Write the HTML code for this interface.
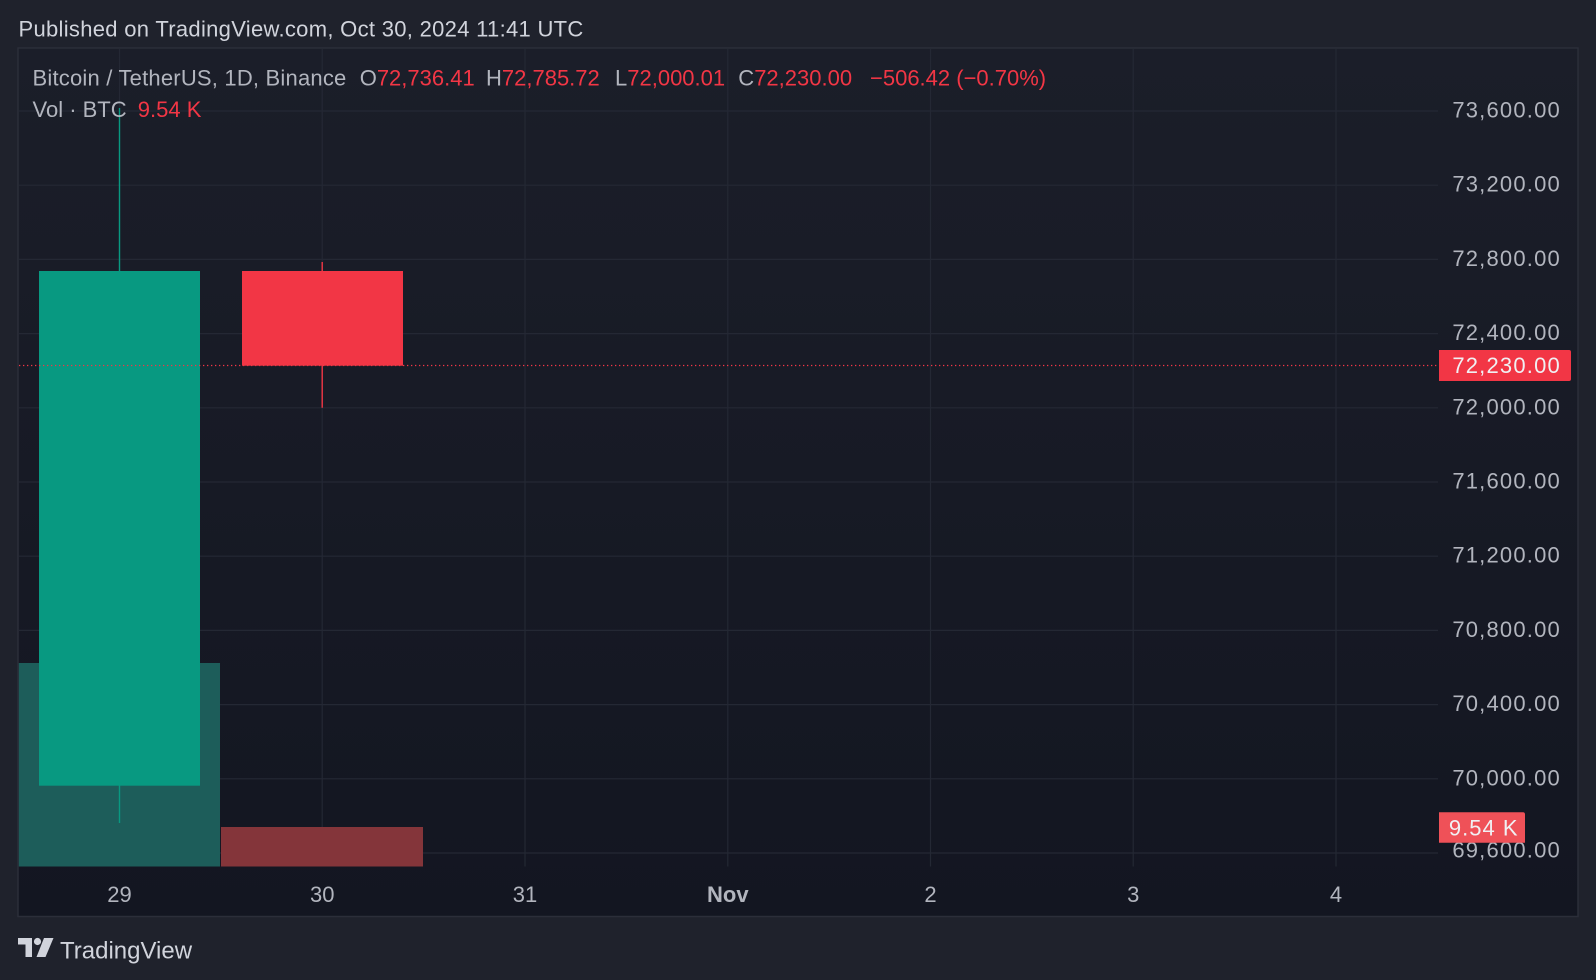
<!DOCTYPE html>
<html>
<head>
<meta charset="utf-8">
<style>
html,body{margin:0;padding:0;background:#1f222c;}
body{width:1596px;height:980px;overflow:hidden;}
svg{display:block;}
text{font-family:"Liberation Sans",Arial,sans-serif;}
</style>
</head>
<body>
<svg width="1596" height="980" viewBox="0 0 1596 980" xmlns="http://www.w3.org/2000/svg">
  <defs>
    <linearGradient id="bg" x1="0" y1="0" x2="0" y2="1">
      <stop offset="0" stop-color="#1b1e29"/>
      <stop offset="1" stop-color="#131621"/>
    </linearGradient>
  </defs>
  <rect x="0" y="0" width="1596" height="980" fill="#1f222c"/>
  <text x="18.5" y="36.5" font-size="22" fill="#d1d4dc" letter-spacing="0.3">Published on TradingView.com, Oct 30, 2024 11:41 UTC</text>

  <!-- chart frame -->
  <rect x="18" y="48" width="1560" height="868.5" fill="url(#bg)" stroke="#2b2e39" stroke-width="1.5"/>

  <!-- horizontal grid -->
  <g stroke="#242834" stroke-width="1.2">
    <line x1="19" x2="1438" y1="111" y2="111"/>
    <line x1="19" x2="1438" y1="185.2" y2="185.2"/>
    <line x1="19" x2="1438" y1="259.4" y2="259.4"/>
    <line x1="19" x2="1438" y1="333.6" y2="333.6"/>
    <line x1="19" x2="1438" y1="407.8" y2="407.8"/>
    <line x1="19" x2="1438" y1="482" y2="482"/>
    <line x1="19" x2="1438" y1="556.2" y2="556.2"/>
    <line x1="19" x2="1438" y1="630.4" y2="630.4"/>
    <line x1="19" x2="1438" y1="704.6" y2="704.6"/>
    <line x1="19" x2="1438" y1="778.8" y2="778.8"/>
    <line x1="19" x2="1438" y1="853" y2="853"/>
  </g>
  <!-- vertical grid -->
  <g stroke="#242834" stroke-width="1.2">
    <line x1="119.5" x2="119.5" y1="49" y2="866.5"/>
    <line x1="322.2" x2="322.2" y1="49" y2="866.5"/>
    <line x1="525" x2="525" y1="49" y2="866.5"/>
    <line x1="727.8" x2="727.8" y1="49" y2="866.5"/>
    <line x1="930.5" x2="930.5" y1="49" y2="866.5"/>
    <line x1="1133.2" x2="1133.2" y1="49" y2="866.5"/>
    <line x1="1336" x2="1336" y1="49" y2="866.5"/>
  </g>

  <!-- volume bars -->
  <rect x="18.8" y="663" width="201.2" height="203.5" fill="#1d5d5a"/>
  <rect x="221" y="827" width="202" height="39.5" fill="#84353a"/>

  <!-- candles -->
  <line x1="119.5" x2="119.5" y1="108" y2="823" stroke="#089981" stroke-width="1.4"/>
  <rect x="39" y="271" width="161" height="514.7" fill="#089981"/>
  <line x1="322.2" x2="322.2" y1="262" y2="407.8" stroke="#f23645" stroke-width="1.4"/>
  <rect x="242" y="271" width="161" height="94.7" fill="#f23645"/>

  <!-- last price dotted line -->
  <line x1="19" x2="1438" y1="365.5" y2="365.5" stroke="#f23645" stroke-width="1.2" stroke-dasharray="1.3 2.7"/>

  <!-- price scale labels -->
  <g font-size="22" fill="#b2b5be" text-anchor="end" letter-spacing="1.2">
    <text x="1561" y="117.5">73,600.00</text>
    <text x="1561" y="191.7">73,200.00</text>
    <text x="1561" y="265.9">72,800.00</text>
    <text x="1561" y="340.1">72,400.00</text>
    <text x="1561" y="414.3">72,000.00</text>
    <text x="1561" y="488.5">71,600.00</text>
    <text x="1561" y="562.7">71,200.00</text>
    <text x="1561" y="636.9">70,800.00</text>
    <text x="1561" y="711.1">70,400.00</text>
    <text x="1561" y="785.3">70,000.00</text>
    <text x="1561" y="857.5">69,600.00</text>
  </g>

  <!-- last price label -->
  <path d="M1439 350 H1569 Q1571 350 1571 352 V379 Q1571 381 1569 381 H1439 Z" fill="#f23645"/>
  <text x="1561" y="373" font-size="22" fill="#f0f0f3" text-anchor="end" letter-spacing="1.2">72,230.00</text>

  <!-- volume label -->
  <path d="M1439 812.3 H1523 Q1525 812.3 1525 814.3 V842.7 H1439 Z" fill="#ef5158"/>
  <text x="1518.5" y="835.5" font-size="22" fill="#f0f0f3" text-anchor="end" letter-spacing="1">9.54 K</text>

  <!-- time axis labels -->
  <g font-size="22" fill="#b2b5be" text-anchor="middle">
    <text x="119.5" y="902">29</text>
    <text x="322.2" y="902">30</text>
    <text x="525" y="902">31</text>
    <text x="727.8" y="902" font-weight="bold">Nov</text>
    <text x="930.5" y="902">2</text>
    <text x="1133.2" y="902">3</text>
    <text x="1336" y="902">4</text>
  </g>

  <!-- legend -->
  <text y="85.5" font-size="22" fill="#b2b5be">
    <tspan x="32.5" letter-spacing="0.2">Bitcoin / TetherUS, 1D, Binance</tspan>
    <tspan x="359.7">O</tspan><tspan fill="#f23645">72,736.41</tspan>
    <tspan x="486">H</tspan><tspan fill="#f23645">72,785.72</tspan>
    <tspan x="615">L</tspan><tspan fill="#f23645">72,000.01</tspan>
    <tspan x="738.3">C</tspan><tspan fill="#f23645">72,230.00</tspan>
    <tspan x="870" fill="#f23645">−506.42 (−0.70%)</tspan>
  </text>
  <text y="117" font-size="22" fill="#b2b5be">
    <tspan x="32.5">Vol · BTC</tspan>
    <tspan x="137.8" fill="#f23645">9.54 K</tspan>
  </text>

  <!-- TradingView logo -->
  <g fill="#d1d4dc">
    <path d="M18 938 H32 V957 H25.5 V944.5 H18 Z"/>
    <circle cx="37.5" cy="941.5" r="3.6"/>
    <path d="M44 938 H53.5 L45.5 957 H36.5 Z"/>
  </g>
  <text x="60" y="958.5" font-size="24" fill="#d1d4dc">TradingView</text>
</svg>
</body>
</html>
